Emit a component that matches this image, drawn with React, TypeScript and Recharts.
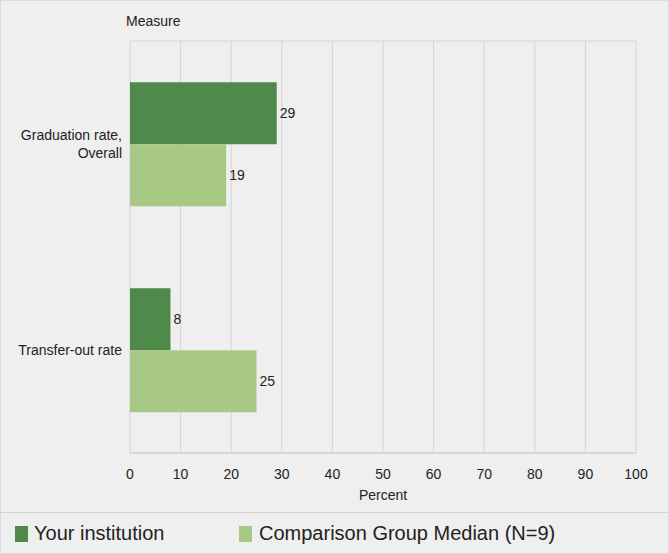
import React from "react";
import {
    BarChart,
    Bar,
    XAxis,
    YAxis,
    CartesianGrid,
    LabelList,
    Legend,
} from "recharts";

const measures = ["Graduation rate, Overall", "Transfer-out rate"];
const yourInstitution = [29, 8];
const comparisonMedian = [19, 25];
const percentTicks = [0, 10, 20, 30, 40, 50, 60, 70, 80, 90, 100];

const DARK = "#4f8a4b";
const LIGHT = "#a7c985";
const FONT = "'Liberation Sans', Arial, sans-serif";

const data = measures.map((m, i) => ({
    measure: m,
    yours: yourInstitution[i],
    median: comparisonMedian[i],
}));

const CategoryTick = ({ x, y, payload }: any) => {
    const text: string = payload.value;
    const parts = text.includes(", ")
        ? [text.slice(0, text.indexOf(", ") + 1), text.slice(text.indexOf(", ") + 2)]
        : [text];
    const lineH = 18;
    const startY = y - ((parts.length - 1) * lineH) / 2;
    return (
        <g>
            {parts.map((p, i) => (
                <text
                    key={i}
                    x={x}
                    y={startY + i * lineH}
                    dy={5}
                    textAnchor="end"
                    fontSize={14}
                    fill="#222"
                    fontFamily={FONT}
                >
                    {p}
                </text>
            ))}
        </g>
    );
};

const LegendContent = () => (
    <div
        style={{
            position: "relative",
            fontFamily: FONT,
            fontSize: 20,
            color: "#222",
            height: 42,
        }}
    >
        <span style={{ position: "absolute", left: 14, top: 14, width: 13, height: 16, background: DARK }} />
        <span style={{ position: "absolute", left: 33, top: 10 }}>Your institution</span>
        <span style={{ position: "absolute", left: 238, top: 14, width: 13, height: 16, background: LIGHT }} />
        <span style={{ position: "absolute", left: 258, top: 10 }}>Comparison Group Median (N=9)</span>
    </div>
);

export default function App() {
    return (
        <div
            style={{
                position: "absolute",
                left: 0,
                top: 0,
                width: 669,
                height: 554,
                background: "#efefef",
                boxSizing: "border-box",
                border: "1px solid #dcdcdc",
            }}
        >
            <div
                style={{
                    position: "absolute",
                    left: 0,
                    top: 511,
                    width: 667,
                    height: 1,
                    background: "#d2d2d2",
                }}
            />
            <BarChart
                width={667}
                height={552}
                data={data}
                layout="vertical"
                margin={{ top: 40, right: 32, left: 0, bottom: 40 }}
                barGap={0}
                barCategoryGap="20%"
                style={{ fontFamily: FONT }}
            >
                <CartesianGrid
                    stroke="#d4d4d4"
                    vertical
                    horizontal
                    horizontalCoordinatesGenerator={({ offset }: any) => [
                        offset.top,
                        offset.top + offset.height,
                    ]}
                />
                <XAxis
                    type="number"
                    domain={[0, 100]}
                    ticks={percentTicks}
                    tickLine={false}
                    axisLine={{ stroke: "#cfcfcf" }}
                    tick={{ fontSize: 14, fill: "#222", fontFamily: FONT }}
                    tickMargin={10}
                    height={60}
                    label={{
                        value: "Percent",
                        position: "insideBottom",
                        offset: 13,
                        fontSize: 14,
                        fill: "#222",
                        fontFamily: FONT,
                    }}
                />
                <YAxis
                    type="category"
                    dataKey="measure"
                    width={129}
                    tickLine={false}
                    axisLine={false}
                    tick={<CategoryTick />}
                    label={{
                        content: ({ viewBox }: any) => (
                            <text
                                x={viewBox.x + viewBox.width - 4}
                                y={viewBox.y - 15}
                                fontSize={14}
                                fill="#222"
                                fontFamily={FONT}
                            >
                                Measure
                            </text>
                        ),
                    }}
                />
                <Legend
                    layout="horizontal"
                    verticalAlign="middle"
                    align="center"
                    content={<LegendContent />}
                    wrapperStyle={{ position: "absolute", left: 0, top: 511, width: 667, height: 42 }}
                />
                <Bar dataKey="yours" name="Your institution" fill={DARK} isAnimationActive={false}>
                    <LabelList dataKey="yours" position="right" offset={3} fontSize={14} fill="#222" fontFamily={FONT} />
                </Bar>
                <Bar dataKey="median" name="Comparison Group Median (N=9)" fill={LIGHT} isAnimationActive={false}>
                    <LabelList dataKey="median" position="right" offset={3} fontSize={14} fill="#222" fontFamily={FONT} />
                </Bar>
            </BarChart>
        </div>
    );
}
